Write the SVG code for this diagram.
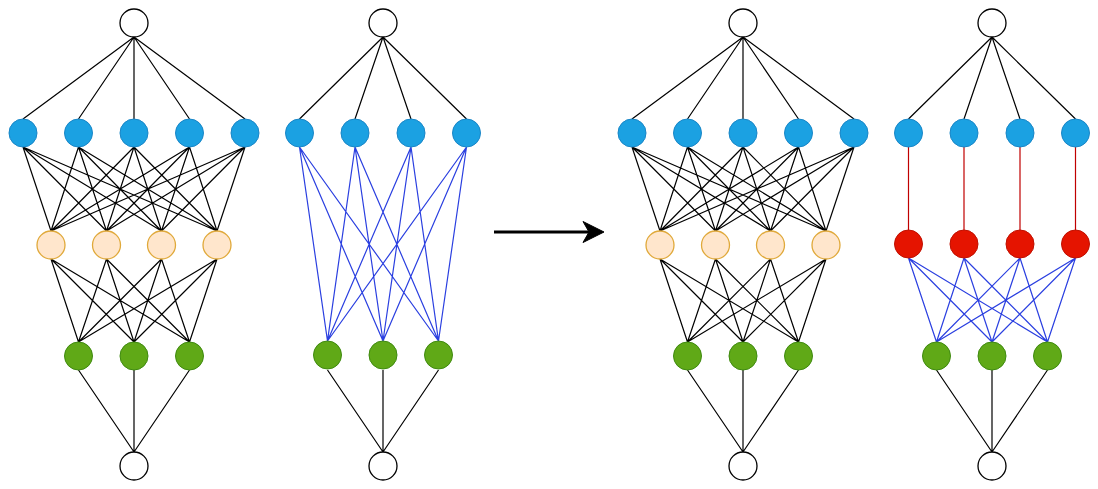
<svg xmlns="http://www.w3.org/2000/svg" width="1098" height="489" viewBox="0 0 1098 489">
<style>
.k{stroke:#000;stroke-width:1.2;fill:none}
.b{stroke:#2a3fe0;stroke-width:1.2;fill:none}
.r{stroke:#c00000;stroke-width:1.2;fill:none}
.w{fill:#fff;stroke:#000;stroke-width:1.3}
.bl{fill:#1ba1e2;stroke:#1a86c7;stroke-width:1}
.pe{fill:#ffe6cc;stroke:#e0a93a;stroke-width:1.3}
.gr{fill:#60a917;stroke:#3f8a10;stroke-width:1}
.rd{fill:#e51400;stroke:#c01000;stroke-width:1}
</style>
<g id="connectors">
<!-- panel 1 -->
<path class="k" d="M134,37L23,119M134,37L78.5,119M134,37L134,119M134,37L189.5,119M134,37L245,119"/>
<path class="k" d="M23,147L51,231M23,147L106.5,231M23,147L161.5,231M23,147L217,231
M78.5,147L51,231M78.5,147L106.5,231M78.5,147L161.5,231M78.5,147L217,231
M134,147L51,231M134,147L106.5,231M134,147L161.5,231M134,147L217,231
M189.5,147L51,231M189.5,147L106.5,231M189.5,147L161.5,231M189.5,147L217,231
M245,147L51,231M245,147L106.5,231M245,147L161.5,231M245,147L217,231"/>
<path class="k" d="M51,259L78.5,342M51,259L134,342M51,259L189.5,342
M106.5,259L78.5,342M106.5,259L134,342M106.5,259L189.5,342
M161.5,259L78.5,342M161.5,259L134,342M161.5,259L189.5,342
M217,259L78.5,342M217,259L134,342M217,259L189.5,342"/>
<path class="k" d="M78.5,370L134,452M134,370L134,452M189.5,370L134,452"/>
<!-- panel 2 -->
<path class="k" d="M383,37L299.5,119M383,37L355,119M383,37L411,119M383,37L466.5,119"/>
<path class="b" d="M299.5,147L327.5,341M299.5,147L383,341M299.5,147L438.5,341
M355,147L327.5,341M355,147L383,341M355,147L438.5,341
M411,147L327.5,341M411,147L383,341M411,147L438.5,341
M466.5,147L327.5,341M466.5,147L383,341M466.5,147L438.5,341"/>
<path class="k" d="M327.5,370L383,452M383,370L383,452M438.5,370L383,452"/>
<!-- panel 3 -->
<path class="k" d="M743,37L632,119M743,37L687.5,119M743,37L743,119M743,37L798.5,119M743,37L854,119"/>
<path class="k" d="M632,147L660,231M632,147L715.5,231M632,147L770.5,231M632,147L826,231
M687.5,147L660,231M687.5,147L715.5,231M687.5,147L770.5,231M687.5,147L826,231
M743,147L660,231M743,147L715.5,231M743,147L770.5,231M743,147L826,231
M798.5,147L660,231M798.5,147L715.5,231M798.5,147L770.5,231M798.5,147L826,231
M854,147L660,231M854,147L715.5,231M854,147L770.5,231M854,147L826,231"/>
<path class="k" d="M660,259L687.5,342M660,259L743,342M660,259L798.5,342
M715.5,259L687.5,342M715.5,259L743,342M715.5,259L798.5,342
M770.5,259L687.5,342M770.5,259L743,342M770.5,259L798.5,342
M826,259L687.5,342M826,259L743,342M826,259L798.5,342"/>
<path class="k" d="M687.5,370L743,452M743,370L743,452M798.5,370L743,452"/>
<!-- panel 4 -->
<path class="k" d="M992,37L908.5,119M992,37L964,119M992,37L1020,119M992,37L1075.5,119"/>
<path class="r" d="M908.5,147L908.5,230M964,147L964,230M1020,147L1020,230M1075.5,147L1075.5,230"/>
<path class="b" d="M908.5,258L936.5,342M908.5,258L992,342M908.5,258L1047.5,342
M964,258L936.5,342M964,258L992,342M964,258L1047.5,342
M1020,258L936.5,342M1020,258L992,342M1020,258L1047.5,342
M1075.5,258L936.5,342M1075.5,258L992,342M1075.5,258L1047.5,342"/>
<path class="k" d="M936.5,370L992,452M992,370L992,452M1047.5,370L992,452"/>
<!-- arrow -->
<path d="M494,232L591,232" stroke="#000" stroke-width="3" fill="none"/>
<path d="M604,232L583,221.5L589,232L583,242.5Z" fill="#000" stroke="#000" stroke-width="1" stroke-linejoin="miter"/>
</g>
<!-- panel 1 nodes -->
<g id="p1-top"><circle class="w" cx="134" cy="23" r="14"/></g>
<g id="p1-b1"><circle class="bl" cx="23" cy="133" r="14"/></g>
<g id="p1-b2"><circle class="bl" cx="78.5" cy="133" r="14"/></g>
<g id="p1-b3"><circle class="bl" cx="134" cy="133" r="14"/></g>
<g id="p1-b4"><circle class="bl" cx="189.5" cy="133" r="14"/></g>
<g id="p1-b5"><circle class="bl" cx="245" cy="133" r="14"/></g>
<g id="p1-p1"><circle class="pe" cx="51" cy="245" r="14"/></g>
<g id="p1-p2"><circle class="pe" cx="106.5" cy="245" r="14"/></g>
<g id="p1-p3"><circle class="pe" cx="161.5" cy="245" r="14"/></g>
<g id="p1-p4"><circle class="pe" cx="217" cy="245" r="14"/></g>
<g id="p1-g1"><circle class="gr" cx="78.5" cy="356" r="14"/></g>
<g id="p1-g2"><circle class="gr" cx="134" cy="356" r="14"/></g>
<g id="p1-g3"><circle class="gr" cx="189.5" cy="356" r="14"/></g>
<g id="p1-bot"><circle class="w" cx="134" cy="466" r="14"/></g>
<!-- panel 2 nodes -->
<g id="p2-top"><circle class="w" cx="383" cy="23" r="14"/></g>
<g id="p2-b1"><circle class="bl" cx="299.5" cy="133" r="14"/></g>
<g id="p2-b2"><circle class="bl" cx="355" cy="133" r="14"/></g>
<g id="p2-b3"><circle class="bl" cx="411" cy="133" r="14"/></g>
<g id="p2-b4"><circle class="bl" cx="466.5" cy="133" r="14"/></g>
<g id="p2-g1"><circle class="gr" cx="327.5" cy="355" r="14"/></g>
<g id="p2-g2"><circle class="gr" cx="383" cy="355" r="14"/></g>
<g id="p2-g3"><circle class="gr" cx="438.5" cy="355" r="14"/></g>
<g id="p2-bot"><circle class="w" cx="383" cy="466" r="14"/></g>
<!-- panel 3 nodes -->
<g id="p3-top"><circle class="w" cx="743" cy="23" r="14"/></g>
<g id="p3-b1"><circle class="bl" cx="632" cy="133" r="14"/></g>
<g id="p3-b2"><circle class="bl" cx="687.5" cy="133" r="14"/></g>
<g id="p3-b3"><circle class="bl" cx="743" cy="133" r="14"/></g>
<g id="p3-b4"><circle class="bl" cx="798.5" cy="133" r="14"/></g>
<g id="p3-b5"><circle class="bl" cx="854" cy="133" r="14"/></g>
<g id="p3-p1"><circle class="pe" cx="660" cy="245" r="14"/></g>
<g id="p3-p2"><circle class="pe" cx="715.5" cy="245" r="14"/></g>
<g id="p3-p3"><circle class="pe" cx="770.5" cy="245" r="14"/></g>
<g id="p3-p4"><circle class="pe" cx="826" cy="245" r="14"/></g>
<g id="p3-g1"><circle class="gr" cx="687.5" cy="356" r="14"/></g>
<g id="p3-g2"><circle class="gr" cx="743" cy="356" r="14"/></g>
<g id="p3-g3"><circle class="gr" cx="798.5" cy="356" r="14"/></g>
<g id="p3-bot"><circle class="w" cx="743" cy="466" r="14"/></g>
<!-- panel 4 nodes -->
<g id="p4-top"><circle class="w" cx="992" cy="23" r="14"/></g>
<g id="p4-b1"><circle class="bl" cx="908.5" cy="133" r="14"/></g>
<g id="p4-b2"><circle class="bl" cx="964" cy="133" r="14"/></g>
<g id="p4-b3"><circle class="bl" cx="1020" cy="133" r="14"/></g>
<g id="p4-b4"><circle class="bl" cx="1075.5" cy="133" r="14"/></g>
<g id="p4-r1"><circle class="rd" cx="908.5" cy="244" r="14"/></g>
<g id="p4-r2"><circle class="rd" cx="964" cy="244" r="14"/></g>
<g id="p4-r3"><circle class="rd" cx="1020" cy="244" r="14"/></g>
<g id="p4-r4"><circle class="rd" cx="1075.5" cy="244" r="14"/></g>
<g id="p4-g1"><circle class="gr" cx="936.5" cy="356" r="14"/></g>
<g id="p4-g2"><circle class="gr" cx="992" cy="356" r="14"/></g>
<g id="p4-g3"><circle class="gr" cx="1047.5" cy="356" r="14"/></g>
<g id="p4-bot"><circle class="w" cx="992" cy="466" r="14"/></g>
</svg>
